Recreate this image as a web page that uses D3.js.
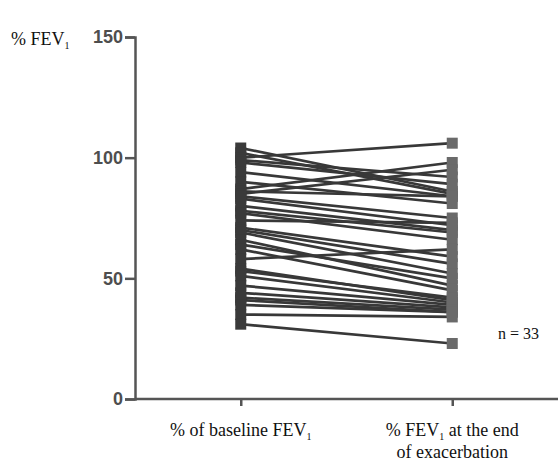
<!DOCTYPE html>
<html>
<head>
  <meta charset="utf-8">
  <title>FEV1</title>
  <script src="https://d3js.org/d3.v7.min.js"></script>
  <style>
    body { margin: 0; background: #fff; }
    .serif { font-family: "Liberation Serif", "DejaVu Serif", serif; fill: #111; }
    .ytick text { font-family: "Liberation Sans Narrow", "Liberation Sans", Arial, sans-serif; font-weight: bold; font-size: 18px; fill: #4e4e4e; }
  </style>
</head>
<body>
  <svg id="chart"></svg>
  <script>
    const groups = ["baseline", "end"];
    const yTicks = [0, 50, 100, 150];
    // % FEV1 per patient
    const baseline = [104, 102, 100, 99, 98, 94, 90, 87, 86, 85, 84, 83, 80, 78, 77, 74, 71, 70, 69, 66, 64, 62, 58, 54, 53, 51, 47, 44, 42, 41, 39, 35, 31];
    const endExac = [86, 85, 106, 92, 89, 84, 81, 98, 84, 95, 75, 72, 70, 69, 66, 73, 59, 56, 52, 47, 50, 45, 62, 41, 42, 40, 39, 38, 37, 36, 36, 34, 23];

    const W = 558, H = 461;
    const mLeft = 135, mTop = 37, mBottom = 399;

    const svg = d3.select("#chart").attr("width", W).attr("height", H);

    const x = d3.scalePoint().domain(groups).range([mLeft, W]).padding(0.5);
    const y = d3.scaleLinear().domain([0, 150]).range([mBottom, mTop]);

    const pairs = baseline.map((b, i) => ({ b: b, e: endExac[i] }));

    // axes
    const yAxis = svg.append("g")
      .attr("class", "ytick")
      .attr("transform", `translate(${mLeft},0)`)
      .call(d3.axisLeft(y).tickValues(yTicks).tickSize(10).tickPadding(2));
    const xAxis = svg.append("g")
      .attr("transform", `translate(0,${mBottom})`)
      .call(d3.axisBottom(x).tickSize(7).tickFormat(""));
    [yAxis, xAxis].forEach(a => {
      a.selectAll("path").attr("stroke", "#555").attr("stroke-width", 2.5);
      a.selectAll("line").attr("stroke", "#555").attr("stroke-width", 2.5);
    });
    xAxis.select("path").attr("d", `M${mLeft},0H${W}`);

    // connecting lines
    svg.append("g").selectAll("line")
      .data(pairs)
      .join("line")
      .attr("x1", x("baseline"))
      .attr("x2", x("end"))
      .attr("y1", d => y(d.b))
      .attr("y2", d => y(d.e))
      .attr("stroke", "#383838")
      .attr("stroke-width", 2.7);

    // squares at both ends
    const sq = 11;
    groups.forEach(g => {
      svg.append("g").selectAll("rect")
        .data(pairs)
        .join("rect")
        .attr("x", x(g) - sq / 2)
        .attr("y", d => y(g === "baseline" ? d.b : d.e) - sq / 2)
        .attr("width", sq)
        .attr("height", sq)
        .attr("fill", g === "baseline" ? "#3a3a3a" : "#6a6a6a");
    });

    // texts
    const t1 = svg.append("text").attr("class", "serif").attr("x", 11).attr("y", 45).attr("font-size", 18);
    t1.append("tspan").text("% FEV");
    t1.append("tspan").attr("font-size", 10).attr("dy", 4).text("1");

    const xl = svg.append("text").attr("class", "serif").attr("x", x("baseline")).attr("y", 436)
      .attr("font-size", 18).attr("text-anchor", "middle");
    xl.append("tspan").text("% of baseline FEV");
    xl.append("tspan").attr("font-size", 10).attr("dy", 4).text("1");

    const xr = svg.append("text").attr("class", "serif").attr("x", x("end")).attr("y", 436)
      .attr("font-size", 18).attr("text-anchor", "middle");
    xr.append("tspan").text("% FEV");
    xr.append("tspan").attr("font-size", 10).attr("dy", 4).text("1");
    xr.append("tspan").attr("dy", -4).text(" at the end");

    svg.append("text").attr("class", "serif").attr("x", x("end")).attr("y", 458)
      .attr("font-size", 18).attr("text-anchor", "middle").text("of exacerbation");

    svg.append("text").attr("class", "serif").attr("x", 498).attr("y", 339)
      .attr("font-size", 16).text("n = 33");
  </script>
</body>
</html>
